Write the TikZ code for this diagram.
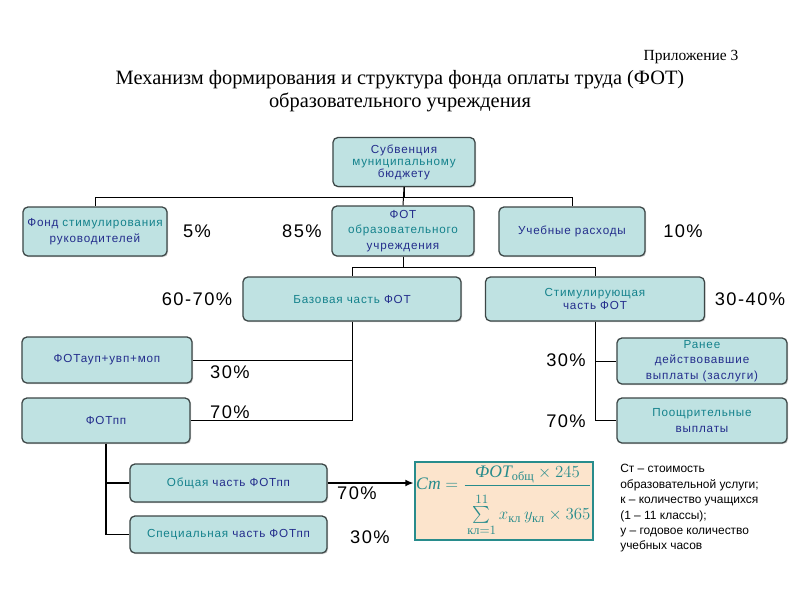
\documentclass[tikz,border=0pt]{standalone}
\usepackage{amsmath}
\usepackage{fontspec}
\setmainfont{Liberation Serif}
\setsansfont{Liberation Sans}
\newfontfamily\boxfont{Liberation Sans}[LetterSpace=7]
\newfontfamily\pctfont{Liberation Sans}[LetterSpace=8]
\usetikzlibrary{positioning, arrows.meta, shadows}
\definecolor{boxfill}{RGB}{191,226,226}
\definecolor{boxline}{RGB}{60,70,70}
\definecolor{tnavy}{RGB}{35,45,140}
\definecolor{tteal}{RGB}{20,130,140}
\definecolor{formfill}{RGB}{252,228,204}
\definecolor{formline}{RGB}{40,140,140}

\begin{document}
\begin{tikzpicture}[x=0.025cm, y=-0.025cm,
  box/.style={draw=boxline, line width=0.9pt, rounded corners=3.5pt, fill=boxfill, align=center, inner sep=1pt, text=tnavy, font=\boxfont\fontsize{8.3}{11}\selectfont, drop shadow={shadow xshift=0.8pt, shadow yshift=-0.8pt, fill=gray!70}},
  pct/.style={font=\pctfont\fontsize{13}{15}\selectfont, inner sep=0},
  conn/.style={draw=black, line width=0.7pt},
  arr/.style={draw=black, line width=1.3pt, -{Latex[length=6pt, width=5pt]}}]
  \fill[white] (0,0) rectangle (800,600);
  \useasboundingbox (0,0) rectangle (800,600);

  % title
  \node[font=\fontsize{11}{13}\selectfont] (appx) at (691,57) {Приложение 3};
  \node[font=\fontsize{14.5}{16.3}\selectfont, align=center] (title) at (400,91)
    {Механизм формирования и структура фонда оплаты труда (ФОТ)\\образовательного учреждения};

  % boxes
  \node[box, minimum width=3.55cm, minimum height=1.225cm, font=\boxfont\fontsize{8.3}{8.5}\selectfont] (sub) at (404,162)
    {Субвенция\\\textcolor{tteal}{муниципальному}\\бюджету};
  \node[box, minimum width=3.6cm, minimum height=1.225cm] (fsr) at (95,231.5)
    {Фонд \textcolor{tteal}{стимулирования}\\руководителей};
  \node[box, minimum width=3.55cm, minimum height=1.25cm] (fot) at (403,231)
    {ФОТ\\\textcolor{tteal}{образовательного}\\учреждения};
  \node[box, minimum width=3.65cm, minimum height=1.225cm] (ucheb) at (572,231.5)
    {Учебные расходы};
  \node[box, minimum width=5.45cm, minimum height=1.1cm] (baz) at (352,299)
    {\textcolor{tteal}{Базовая часть} ФОТ};
  \node[box, minimum width=5.475cm, minimum height=1.1cm, font=\boxfont\fontsize{8.3}{9}\selectfont] (stim) at (595,299)
    {\textcolor{tteal}{Стимулирующая}\\часть ФОТ};
  \node[box, minimum width=4.25cm, minimum height=1.15cm] (aup) at (107,360)
    {ФОТауп+увп+моп};
  \node[box, minimum width=4.2cm, minimum height=1.125cm] (fotpp) at (106,420.5)
    {ФОТпп};
  \node[box, minimum width=4.25cm, minimum height=1.15cm] (ranee) at (702,361)
    {\textcolor{tteal}{Ранее}\\действовавшие\\выплаты (заслуги)};
  \node[box, minimum width=4.25cm, minimum height=1.125cm] (pooshr) at (702,420.5)
    {\textcolor{tteal}{Поощрительные}\\выплаты};
  \node[box, minimum width=4.925cm, minimum height=0.95cm] (obsh) at (228.5,483)
    {\textcolor{tteal}{Общая} часть ФОТпп};
  \node[box, minimum width=4.925cm, minimum height=0.925cm] (spec) at (228.5,534.5)
    {\textcolor{tteal}{Специальная} часть ФОТпп};

  % formula and note
  \node[draw=formline, line width=1.3pt, fill=formfill, text=formline, minimum width=4.45cm, minimum height=1.95cm, inner sep=1pt, font=\fontsize{12.5}{14}\selectfont] (form) at (504,501)
    {$\textit{Ст}=\dfrac{\textit{ФОТ}_{\text{общ}}\times 245}{\rule{0pt}{23pt}\sum\limits_{\text{кл}=1}^{11} x_{\text{кл}}\,y_{\text{кл}}\times 365}$};
  \node[anchor=north west, align=left, inner sep=0, font=\sffamily\fontsize{8.5}{11}\selectfont] (note) at (620,464)
    {Ст -- стоимость\\образовательной услуги;\\к -- количество учащихся\\(1 -- 11 классы);\\у -- годовое количество\\учебных часов};

  % percentages
  \node[pct] (p5) at (197,231) {5\%};
  \node[pct] (p85) at (302,231) {85\%};
  \node[pct] (p10) at (683,231) {10\%};
  \node[pct] (p6070) at (197,299) {60-70\%};
  \node[pct] (p3040) at (750,299) {30-40\%};
  \node[pct] (paup) at (230,372) {30\%};
  \node[pct] (pfotpp) at (230,412) {70\%};
  \node[pct] (pranee) at (566,360) {30\%};
  \node[pct] (ppooshr) at (566,421) {70\%};
  \node[pct] (pobsh) at (357,493) {70\%};
  \node[pct] (pspec) at (370,537) {30\%};

  % connectors
  \draw[conn] (sub.south) -- (fot.north);
  \draw[conn] (sub.south) -- ++(0,10) -| (fsr.north);
  \draw[conn] (sub.south) -- ++(0,10) -| (ucheb.north);
  \draw[conn] (fot.south) -- ++(0,11) -| (baz.north);
  \draw[conn] (fot.south) -- ++(0,11) -| (stim.north);
  \draw[conn] (baz.south) |- (aup.east);
  \draw[conn] (baz.south) |- (fotpp.east);
  \draw[conn] (stim.south) |- (ranee.west);
  \draw[conn] (stim.south) |- (pooshr.west);
  \draw[conn, line width=1.1pt] (fotpp.south) |- (obsh.west);
  \draw[conn, line width=1.1pt] (fotpp.south) |- (spec.west);
  \draw[arr] (obsh.east) -- (obsh.east -| form.west);
\end{tikzpicture}
\end{document}
